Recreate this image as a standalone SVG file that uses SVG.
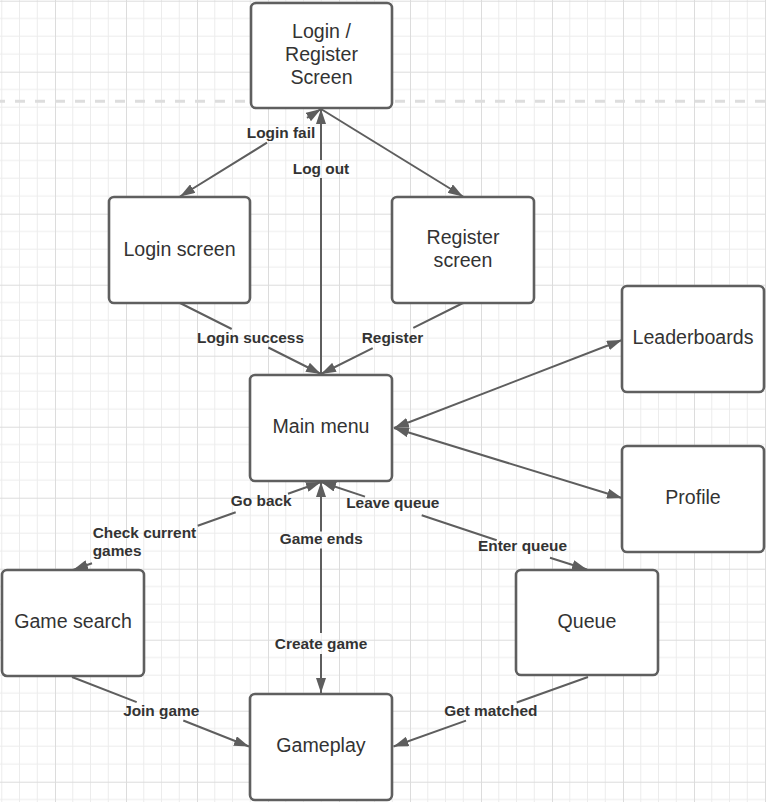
<svg xmlns="http://www.w3.org/2000/svg" width="766" height="802" viewBox="0 0 766 802">
<defs>
<pattern id="grid" x="-16" y="0.7" width="71" height="71" patternUnits="userSpaceOnUse">
<path d="M17.75,0 V71 M35.5,0 V71 M53.25,0 V71 M0,17.75 H71 M0,35.5 H71 M0,53.25 H71" stroke="#ececec" stroke-width="1" fill="none"/>
<path d="M0.5,0 V71 M0,0.5 H71" stroke="#dcdcdc" stroke-width="1" fill="none"/>
</pattern>
<marker id="ah" viewBox="0 0 15 10" refX="15" refY="5" markerWidth="15" markerHeight="10" markerUnits="userSpaceOnUse" orient="auto-start-reverse">
<path d="M0,0 L15,5 L0,10 z" fill="#5e5e5e"/>
</marker>
<style>
.node rect{fill:#fff;stroke:#5f5f5f;stroke-width:2.6}
.node text{font-family:"Liberation Sans",Arial,sans-serif;font-size:19.6px;fill:#333;text-anchor:middle}
.conn path{fill:none;stroke:#5e5e5e;stroke-width:2}
.lbl{font-family:"Liberation Sans",Arial,sans-serif;font-size:15.4px;font-weight:bold;fill:#333;text-anchor:middle}
.lbl.start{text-anchor:start}
</style>
</defs>
<rect width="766" height="802" fill="#fff"/>
<rect width="766" height="802" fill="url(#grid)"/>
<line x1="0" y1="101.3" x2="766" y2="101.3" stroke="#dddddd" stroke-width="3" stroke-dasharray="10 10" stroke-dashoffset="5"/>

<g id="node-login-register" class="node">
<rect x="251" y="3" width="141" height="105" rx="5"/>
<text x="321.5" y="37.5">Login /</text>
<text x="321.5" y="60.5">Register</text>
<text x="321.5" y="83.5">Screen</text>
</g>
<g id="node-login-screen" class="node">
<rect x="109" y="197" width="141" height="106" rx="5"/>
<text x="179.5" y="256">Login screen</text>
</g>
<g id="node-register-screen" class="node">
<rect x="392" y="197" width="142" height="106" rx="5"/>
<text x="463" y="244">Register</text>
<text x="463" y="267">screen</text>
</g>
<g id="node-main-menu" class="node">
<rect x="250" y="375" width="142" height="106" rx="5"/>
<text x="321" y="433">Main menu</text>
</g>
<g id="node-leaderboards" class="node">
<rect x="622" y="286" width="142" height="106" rx="5"/>
<text x="693" y="344">Leaderboards</text>
</g>
<g id="node-profile" class="node">
<rect x="622" y="446" width="142" height="106" rx="5"/>
<text x="693" y="504">Profile</text>
</g>
<g id="node-game-search" class="node">
<rect x="2" y="570" width="142" height="106" rx="5"/>
<text x="73" y="628">Game search</text>
</g>
<g id="node-queue" class="node">
<rect x="516" y="570" width="142" height="105" rx="5"/>
<text x="587" y="628">Queue</text>
</g>
<g id="node-gameplay" class="node">
<rect x="250" y="694" width="142" height="106" rx="5"/>
<text x="321" y="752">Gameplay</text>
</g>

<g id="connectors" class="conn">
<path d="M321,109 L307,117.8 M267,142.7 L180,196.5" marker-start="url(#ah)" marker-end="url(#ah)"/>
<path d="M321,375 L321,178 M321,160 L321,109" marker-end="url(#ah)"/>
<path d="M321,109 L463,196.5" marker-end="url(#ah)"/>
<path d="M180,303 L231.7,329 M268.3,347.5 L321,374" marker-end="url(#ah)"/>
<path d="M463,303 L413.3,327.8 M372.7,348.2 L321,374" marker-end="url(#ah)"/>
<path d="M394,428 L622,340" marker-start="url(#ah)" marker-end="url(#ah)"/>
<path d="M394,428 L622,498" marker-start="url(#ah)" marker-end="url(#ah)"/>
<path d="M321,482 L288,493.7 M235.7,512.3 L197.7,525.8 M92,563.3 L73,570" marker-start="url(#ah)" marker-end="url(#ah)"/>
<path d="M321,482 L321,531.5 M321,548.5 L321,633 M321,654 L321,693" marker-start="url(#ah)" marker-end="url(#ah)"/>
<path d="M321,482 L365,496.6 M421.7,515.3 L496.7,540.2 M550,557.8 L587,569.5" marker-start="url(#ah)" marker-end="url(#ah)"/>
<path d="M72,677 L136.7,702.1 M183.3,720.5 L249,746.5" marker-end="url(#ah)"/>
<path d="M588,677 L516.7,702.5 M466,720.6 L393.5,746.5" marker-end="url(#ah)"/>
<text class="lbl" x="281" y="137.7">Login fail</text>
<text class="lbl" x="321" y="174.3">Log out</text>
<text class="lbl" x="250.5" y="342.7">Login success</text>
<text class="lbl" x="392.5" y="342.7">Register</text>
<text class="lbl" x="261.2" y="506">Go back</text>
<text class="lbl" x="392.8" y="508.3">Leave queue</text>
<text class="lbl" x="321.3" y="544.3">Game ends</text>
<text class="lbl start" x="92.7" y="537.7">Check current</text>
<text class="lbl start" x="92.7" y="556">games</text>
<text class="lbl" x="522.5" y="550.7">Enter queue</text>
<text class="lbl" x="321" y="648.5">Create game</text>
<text class="lbl" x="161.2" y="716">Join game</text>
<text class="lbl" x="490.8" y="715.7">Get matched</text>
</g>
</svg>
